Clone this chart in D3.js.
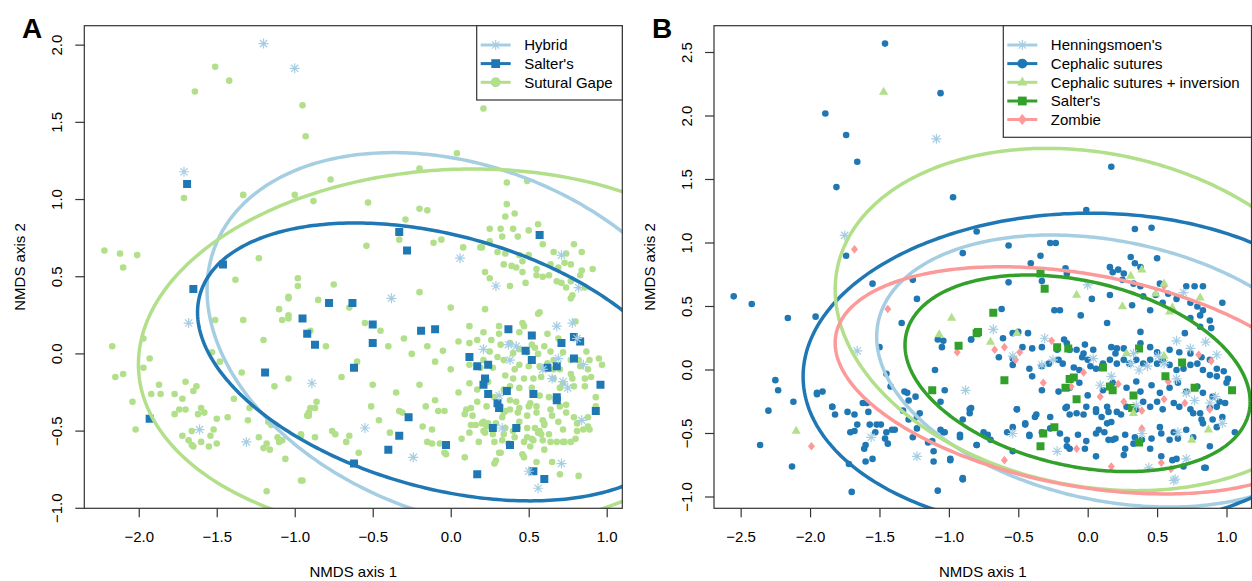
<!DOCTYPE html>
<html><head><meta charset="utf-8">
<script src="https://cdn.jsdelivr.net/npm/d3@7"></script>
<style>
body{margin:0;background:#fff}
text{font-family:"Liberation Sans",Arial,Helvetica,sans-serif;fill:#000}
</style>
</head><body>
<svg id="chart" width="1252" height="581"></svg>
<script>
// ---------------- DATA ----------------
const groupsA = ["Hybrid", "Salter's", "Sutural Gape"];
const colorsA = ["#a6cee3", "#1f78b4", "#b2df8a"];
const groupsB = ["Henningsmoen's", "Cephalic sutures", "Cephalic sutures + inversion", "Salter's", "Zombie"];
const colorsB = ["#a6cee3", "#1f78b4", "#b2df8a", "#33a02c", "#fb9a99"];

const ticksAx = [-2.0, -1.5, -1.0, -0.5, 0.0, 0.5, 1.0];
const ticksAy = [-1.0, -0.5, 0.0, 0.5, 1.0, 1.5, 2.0];
const ticksBx = [-2.5, -2.0, -1.5, -1.0, -0.5, 0.0, 0.5, 1.0];
const ticksBy = [-1.0, -0.5, 0.0, 0.5, 1.0, 1.5, 2.0, 2.5];

// ellipse parameters (centre, spread along x / y, correlation) — panel A order: Hybrid, Salter's, Sutural Gape
const ellA_cx = [0.073, -0.053, 0.018];
const ellA_cy = [0.084, -0.052, 0.008];
const ellA_sx = [1.635, 1.570, 2.020];
const ellA_sy = [1.220, 0.900, 1.190];
const ellA_r  = [-0.271, -0.357, 0.063];
// panel B order: Henningsmoen's, Cephalic, Cephalic+inv, Salter's, Zombie
const ellB_cx = [0.164, -0.030, 0.028, -0.073, -0.031];
const ellB_cy = [-0.008, -0.020, 0.3975, -0.026, -0.0815];
const ellB_sx = [1.684, 2.020, 1.847, 1.243, 1.788];
const ellB_sy = [1.071, 1.255, 1.3475, 0.774, 0.8945];
const ellB_r  = [-0.252, 0.025, -0.174, -0.288, -0.3295];

// Panel A points
const hybridA = [[-1.20,2.01],[-1.00,1.85],[-1.71,1.18],[-1.68,0.20],[-0.89,-0.19],[-1.61,-0.49],[-1.31,-0.57],[-0.55,-0.48],[-0.24,-0.67],[0.33,-0.48],[0.50,-0.76],[0.71,-0.71],[0.56,-0.87],[0.84,-0.43],[0.71,0.64],[0.29,0.44],[0.82,0.43],[0.68,0.18],[0.78,0.20],[0.81,0.10],[0.21,0.03],[0.37,0.06],[0.42,0.05],[0.38,-0.04],[0.59,-0.10],[0.65,-0.16],[0.69,-0.03],[0.72,-0.18],[0.75,-0.22],[0.85,-0.07],[0.31,-0.27],[0.06,0.62],[-0.38,0.36]];
const saltersA = [[-1.69,1.10],[-1.46,0.58],[-1.65,0.42],[-0.95,0.23],[-0.92,0.13],[-1.19,-0.12],[-1.93,-0.42],[-0.33,0.79],[-0.28,0.67],[0.30,-0.32],[0.31,-0.35],[-0.27,-0.41],[-0.33,-0.53],[-0.40,-0.62],[-0.62,-0.71],[-0.03,-0.59],[0.27,-0.48],[0.42,-0.48],[0.38,-0.59],[0.17,-0.78],[0.53,-0.76],[0.60,-0.81],[0.93,-0.37],[0.68,-0.30],[0.57,0.77],[0.37,0.16],[0.52,0.12],[0.71,0.07],[0.79,0.11],[0.83,0.08],[0.48,0.02],[0.52,-0.04],[0.12,-0.02],[0.17,-0.08],[0.24,-0.07],[0.22,-0.16],[0.21,-0.20],[0.24,-0.26],[0.36,-0.24],[0.53,-0.26],[0.62,-0.09],[0.68,-0.08],[0.79,-0.03],[0.96,-0.20],[0.68,-0.28],[-0.78,0.33],[-0.63,0.33],[-0.50,0.19],[-0.50,0.07],[-0.19,0.15],[-0.10,0.16],[-0.62,-0.09],[-0.87,0.06]];
const gapeA = [[-1.51,1.86],[-1.42,1.77],[-1.64,1.70],[-0.95,1.61],[-0.93,1.41],[-1.71,1.01],[-1.33,1.03],[-1.00,1.03],[-0.88,0.99],[-2.22,0.67],[-2.12,0.65],[-2.10,0.56],[-2.01,0.64],[-1.23,0.62],[-1.38,0.48],[-0.98,0.49],[-0.98,0.44],[-1.04,0.37],
[-2.17,0.05],[-2.15,-0.15],[-2.10,-0.13],[-2.04,-0.31],[-2.02,-0.49],[-1.97,0.10],[-1.93,-0.03],[-1.97,-0.09],[-1.92,-0.26],[-1.87,-0.20],[-1.86,-0.26],[-1.77,-0.26],[-1.77,-0.39],[-1.72,-0.29],[-1.74,-0.36],[-1.70,-0.36],[-1.70,-0.18],[-1.65,-0.24],[-1.63,-0.21],[-1.62,-0.39],[-1.60,-0.35],[-1.58,-0.38],[-1.72,-0.53],[-1.68,-0.56],[-1.66,-0.59],[-1.65,-0.60],[-1.60,-0.57],[-1.66,-0.50],[-1.55,-0.60],[-1.54,-0.53],[-1.52,-0.49],[-1.50,-0.58],[-1.50,-0.42],[-1.43,-0.41],[-1.39,-0.29],[-1.34,-0.12],[-1.33,0.22],[-1.48,-0.05],[-1.51,0.22],[-1.53,0.01],[-1.29,-0.35],[-1.30,-0.43],[-1.23,-0.54],[-1.20,-0.61],[-1.18,-0.58],[-1.16,-0.62],[-1.15,-0.46],[-1.17,-0.44],[-1.13,-0.21],[-1.20,0.09],[-1.10,0.29],[-1.08,0.22],[-1.04,0.25],[-1.04,0.23],[-1.04,0.36],[-1.04,-0.16],[-1.11,-0.54],[-1.10,-0.57],[-1.08,-0.56],[-1.06,-0.68],[-0.96,-0.82],[-1.18,-0.89],[-0.96,-0.53],[-0.91,-0.38],[-0.92,-0.40],[-0.90,-0.35],[-0.87,-0.54],[-0.86,-0.31],
[0.04,1.30],[-0.77,1.13],[-0.53,0.98],[-0.20,1.20],[-0.20,0.94],[-0.15,0.93],[-0.29,0.87],[-0.33,0.74],[-0.54,0.70],[-0.11,0.72],[-0.06,0.74],[0.08,0.69],[0.19,0.69],[0.21,1.59],
[0.36,1.11],[0.49,1.12],[0.36,0.97],[0.35,0.89],[0.41,0.91],[0.25,0.81],[0.32,0.81],[0.40,0.81],[0.50,0.80],[0.56,0.84],[0.25,0.73],[0.33,0.76],[0.43,0.76],[0.59,0.71],[0.79,0.71],[0.20,0.69],[0.30,0.66],[0.35,0.65],[0.44,0.64],[0.50,0.64],[0.66,0.66],[0.74,0.65],[0.84,0.66],[0.73,0.59],[0.77,0.58],[0.34,0.58],[0.39,0.57],[0.46,0.60],[0.42,0.56],[0.55,0.55],[0.64,0.58],[0.69,0.56],[0.84,0.54],[0.91,0.55],[0.22,0.53],[0.25,0.49],[0.46,0.53],[0.55,0.51],[0.59,0.50],[0.63,0.51],[0.68,0.47],[0.71,0.46],[0.77,0.47],[0.83,0.51],[0.38,0.44],[0.48,0.46],[0.74,0.43],[0.77,0.36],[0.78,0.38],[0.86,0.43],[0.22,0.29],[0.57,0.27],
[0.12,0.18],[0.21,0.14],[0.31,0.18],[0.31,0.13],[0.46,0.20],[0.47,0.18],[0.44,0.14],[0.52,0.06],[0.56,0.26],[0.62,0.13],[0.69,0.10],[0.80,0.21],[0.12,0.07],[0.17,0.09],[0.26,0.09],[0.32,0.06],[0.38,0.07],[0.40,0.005],[0.44,0.03],[0.49,0.01],[0.54,0.04],[0.56,0.00],[0.60,0.05],[0.64,0.015],[0.66,-0.04],[0.72,0.01],[0.77,-0.04],[0.82,-0.04],[0.87,0.015],[0.89,-0.04],[0.95,-0.03],[0.97,-0.07],[0.88,-0.10],[0.83,-0.08],[0.77,-0.13],[0.70,-0.10],[0.66,-0.10],[0.62,-0.06],[0.57,-0.08],[0.50,-0.08],[0.44,-0.07],[0.41,-0.10],[0.34,-0.04],[0.30,-0.02],[0.25,0.015],[0.21,-0.04],[0.12,-0.07],[0.19,-0.09],[0.27,-0.09],[0.35,-0.14],[0.40,-0.16],[0.47,-0.16],[0.53,-0.16],[0.58,-0.15],[0.66,-0.16],[0.72,-0.19],[0.78,-0.16],[0.86,-0.16],[0.90,-0.15],[0.86,-0.21],[0.79,-0.21],[0.70,-0.22],[0.63,-0.28],[0.57,-0.27],[0.52,-0.22],[0.44,-0.22],[0.38,-0.21],[0.34,-0.23],[0.12,-0.19],[0.17,-0.23],[0.24,-0.18],[0.28,-0.28],[0.38,-0.30],[0.42,-0.31],[0.51,-0.32],[0.55,-0.34],[0.64,-0.36],[0.70,-0.34],[0.74,-0.38],[0.79,-0.41],[0.88,-0.41],[0.93,-0.28],[0.93,-0.34],[0.13,-0.35],[0.17,-0.31],[0.23,-0.34],[0.32,-0.34],[0.34,-0.38],[0.38,-0.36],[0.43,-0.38],[0.49,-0.40],[0.55,-0.38],[0.59,-0.43],[0.65,-0.40],[0.69,-0.44],[0.60,-0.46],[0.54,-0.48],[0.49,-0.48],[0.43,-0.48],[0.35,-0.48],[0.29,-0.45],[0.24,-0.45],[0.20,-0.45],[0.16,-0.46],[0.12,-0.51],[0.21,-0.50],[0.34,-0.52],[0.41,-0.54],[0.49,-0.54],[0.56,-0.51],[0.58,-0.52],[0.63,-0.52],[0.68,-0.57],[0.72,-0.57],[0.77,-0.57],[0.80,-0.55],[0.81,-0.50],[0.85,-0.49],[0.88,-0.47],[0.64,-0.57],[0.59,-0.56],[0.53,-0.56],[0.47,-0.57],[0.37,-0.58],[0.28,-0.57],[0.18,-0.57],[0.32,-0.64],[0.46,-0.65],[0.51,-0.60],[0.55,-0.70],[0.29,-0.69],[0.28,-0.71],[0.65,-0.70],[0.70,-0.78],[0.82,-0.79],[0.60,-0.62],
[-0.87,-0.35],[-0.91,-0.40],[-0.76,-0.50],[-0.74,-0.52],[-0.67,-0.57],[-0.65,-0.53],[-0.59,-0.64],[-0.51,-0.34],[-0.46,-0.43],[-0.39,-0.51],[-0.33,-0.37],[-0.31,-0.38],[-0.16,-0.34],[-0.18,-0.47],[-0.12,-0.49],[-0.15,-0.57],[-0.12,-0.58],[-0.07,-0.58],[-0.08,-0.37],[-0.04,-0.37],[0.10,-0.36],[0.09,-0.39],[0.14,-0.40],[0.13,-0.46],[0.21,-0.44],[0.22,-0.51],[0.07,-0.55],[0.09,-0.67],[-0.04,-0.64],[-0.03,-0.65],[0.31,-0.64],[0.35,-0.37],[0.33,-0.41],[0.44,-0.35],[0.50,-0.34],[0.44,-0.44],[0.52,-0.55],[0.47,-0.67],[0.60,-0.45],[0.72,-0.49],[0.74,-0.33],[0.81,-0.45],[0.89,-0.49],[0.73,-0.57],[0.57,-0.50],[0.40,-0.50],[0.33,-0.56],[0.27,-0.52],[0.23,-0.47],[-0.95,-0.82],[-0.96,-0.52],
[-0.85,0.35],[-0.75,0.45],[-0.65,0.30],[-0.55,0.20],[-0.45,0.15],[-0.40,0.05],[-0.30,0.10],[-0.25,0.00],[-0.15,0.05],[-0.10,-0.05],[-0.05,0.02],[0.00,-0.10],[0.05,0.08],[-0.60,-0.05],[-0.70,-0.15],[-0.50,-0.20],[-0.35,-0.25],[-0.20,-0.20],[-0.80,0.05],[-0.90,0.15],[0.05,-0.25],[-0.10,-0.30],[0.00,0.30],[-0.20,0.40]];

// Panel B points
const henningB = [[-1.75,1.06],[-1.09,1.82],[-1.66,0.15],[-0.88,-0.16],[-1.56,-0.53],[-1.23,-0.68],[0.00,0.67],[0.69,0.61],[-0.68,0.32],[-0.31,0.25],[0.64,0.23],[0.74,0.17],[0.85,0.22],[0.93,0.12],[-0.54,0.11],[-0.33,0.04],[-0.25,0.08],[0.04,0.09],[0.33,0.13],[0.31,0.05],[0.37,0.00],[0.43,0.03],[0.51,0.11],[0.55,0.05],[0.64,-0.07],[0.71,-0.18],[0.77,-0.24],[0.88,-0.26],[0.92,-0.21],[0.97,-0.42],[0.17,-0.05],[0.09,-0.12],[0.35,-0.28],[0.39,-0.50],[-0.54,-0.50],[-0.22,-0.64],[0.44,-0.77],[0.63,-0.86],[0.71,-0.70],[0.65,-0.49],[0.62,-0.87]];
const cephalicB = [[-1.46,2.57],[-1.06,2.18],[-1.89,2.02],[-1.74,1.85],[-1.66,1.64],[-1.81,1.44],[-0.97,1.36],[-1.74,0.90],[-1.55,0.68],[-1.26,0.71],[-1.23,0.56],[-2.55,0.58],[0.17,1.60],[-0.01,1.26],
[-2.42,0.52],[-2.16,0.41],[-1.96,0.42],[-2.25,-0.08],[-2.23,-0.16],[-2.30,-0.32],[-2.12,-0.25],[-1.95,-0.18],[-1.91,-0.17],[-2.36,-0.59],[-2.13,-0.76],[-1.84,-0.29],[-1.82,-0.35],[-1.70,-0.96],
[-0.90,0.92],[-1.34,0.37],[-1.50,0.18],[-1.08,0.24],[-1.04,0.23],[-1.05,0.18],[-0.84,0.24],[-1.10,0.00],[-1.03,-0.16],[-1.06,-0.25],[-0.84,-0.30],[-0.85,-0.34],[-0.90,-0.39],[-0.92,-0.51],[-0.80,-0.59],[-0.90,-0.85],[-1.08,-0.95],[-0.99,-0.70],[-1.03,-0.49],[-1.06,-0.47],[-1.12,-0.56],[-1.11,-0.64],[-1.11,-0.72],[-1.15,-0.57],[-1.26,-0.53],[-1.23,-0.46],[-1.29,-0.39],[-1.32,-0.17],[-1.30,-0.18],[-1.29,-0.24],[-1.24,-0.21],[-1.33,-0.32],[-1.21,-0.34],[-1.23,-0.37],[-1.42,-0.13],[-1.45,-0.03],[-1.59,-0.26],[-1.58,-0.33],[-1.62,-0.26],[-1.68,-0.35],[-1.73,-0.33],[-1.84,-0.29],[-1.95,-0.19],[-1.66,-0.43],[-1.71,-0.49],[-1.68,-0.48],[-1.57,-0.43],[-1.52,-0.43],[-1.49,-0.43],[-1.53,-0.49],[-1.45,-0.49],[-1.46,-0.54],[-1.41,-0.47],[-1.39,-0.47],[-1.44,-0.58],[-1.60,-0.59],[-1.61,-0.62],[-1.55,-0.70],[-1.60,-0.72],[-1.72,-0.74],[-0.90,-0.86],
[-0.80,1.09],[-0.57,0.98],[-0.27,1.00],[-0.23,1.00],[-0.34,0.90],[0.34,1.11],[0.46,1.12],[-0.41,0.84],[-0.16,0.80],[-0.57,0.69],[-0.33,0.70],[-0.15,0.76],[0.16,0.81],[0.31,0.89],[0.34,0.84],[0.38,0.81],[0.50,0.88],[0.18,0.77],[0.22,0.79],[0.26,0.76],[0.25,0.71],[0.33,0.68],[0.38,0.66],[0.40,0.58],[0.49,0.59],[0.52,0.68],[0.58,0.60],[0.64,0.56],[0.71,0.66],[0.77,0.66],[0.83,0.66],[0.74,0.53],[0.79,0.50],[0.83,0.47],[0.88,0.39],[0.81,0.43],[0.74,0.41],[0.81,0.34],[0.97,0.53],[0.54,0.53],[0.45,0.47],[0.32,0.51],[0.16,0.59],[0.03,0.56],[-0.24,0.47],[-0.20,0.47],[-0.05,0.43],[0.14,0.37],[-0.62,0.48],[0.38,0.30],[0.70,0.29],[0.89,0.33],
[-0.84,0.24],[-0.64,0.10],[-0.61,0.25],[-0.54,0.29],[-0.50,0.30],[-0.43,0.29],[-0.47,0.18],[-0.40,0.17],[-0.33,0.18],[-0.17,0.24],[-0.15,0.21],[-0.22,0.16],[-0.13,0.16],[-0.08,0.16],[-0.02,0.20],[-0.03,0.13],[0.04,0.16],[-0.04,0.10],[0.00,0.08],[0.17,0.18],[0.21,0.17],[0.26,0.17],[0.20,0.13],[0.38,0.21],[0.45,0.18],[0.50,0.14],[0.59,0.16],[0.66,0.14],[0.74,0.13],[0.82,0.10],[0.88,0.08],[0.93,0.01],[0.98,-0.01],[1.01,-0.07],[1.00,-0.10],[0.93,-0.05],[0.88,-0.04],[0.83,0.00],[0.79,0.05],[0.74,0.04],[0.69,0.01],[0.64,0.00],[0.59,0.04],[0.54,0.08],[0.50,0.05],[0.45,0.08],[0.40,0.05],[0.35,0.08],[0.30,0.05],[0.26,0.08],[0.21,0.05],[0.16,0.08],[0.11,0.05],[0.06,0.01],[0.02,0.03],[-0.06,0.00],[-0.10,0.02],[-0.18,0.05],[-0.21,0.08],[-0.28,0.05],[-0.33,0.03],[-0.42,0.01],[-0.54,0.04],[-0.54,0.09],[-0.40,-0.05],[-0.33,-0.16],[-0.21,-0.17],[-0.13,-0.14],[-0.06,-0.10],[0.00,-0.20],[0.11,-0.16],[0.18,-0.10],[0.28,-0.14],[0.35,-0.09],[0.38,-0.17],[0.46,-0.12],[0.52,-0.18],[0.59,-0.14],[0.65,-0.10],[0.71,-0.17],[0.79,-0.13],[0.83,-0.18],[0.90,-0.21],[0.95,-0.25],[0.99,-0.26],[0.88,-0.30],[0.81,-0.34],[0.74,-0.31],[0.66,-0.29],[0.62,-0.26],[0.54,-0.31],[0.50,-0.25],[0.45,-0.29],[0.40,-0.25],[0.35,-0.31],[0.28,-0.29],[0.21,-0.33],[0.14,-0.29],[0.06,-0.33],[-0.01,-0.29],[-0.08,-0.34],[-0.16,-0.30],[-0.13,-0.35],[-0.27,-0.37],[-0.37,-0.35],[-0.38,-0.37],[-0.45,-0.42],[-0.51,-0.31],[-0.54,-0.45],[-0.58,-0.49],[-0.42,-0.51],[-0.33,-0.49],[-0.27,-0.46],[-0.20,-0.50],[-0.15,-0.55],[-0.07,-0.51],[-0.01,-0.56],[0.08,-0.47],[0.14,-0.42],[0.15,-0.55],[0.20,-0.54],[0.27,-0.51],[0.34,-0.53],[0.39,-0.55],[0.46,-0.54],[0.53,-0.50],[0.59,-0.55],[0.65,-0.54],[0.71,-0.47],[0.76,-0.53],[0.83,-0.42],[0.90,-0.39],[0.93,-0.45],[0.97,-0.37],[0.27,-0.62],[0.45,-0.62],[0.53,-0.68],[0.61,-0.71],[0.64,-0.70],[0.69,-0.76],[0.85,-0.77],[0.82,-0.39],[1.06,-0.49],[-0.85,-0.31],[-0.75,-0.49],[-0.72,-0.51],[-0.80,-0.59],[-0.54,-0.64],[0.06,-0.68],[-0.13,-0.62],[-0.02,-0.62],
[-0.51,-0.31],[-0.45,-0.43],[-0.42,-0.52],[-0.15,-0.29],[-0.03,-0.35],[0.06,-0.31],[0.10,-0.37],[0.15,-0.33],[0.17,-0.41],[0.06,-0.50],[0.12,-0.49],[0.18,-0.55],[0.24,-0.35],[0.26,-0.67],[0.33,-0.58],[0.52,-0.45],[0.62,-0.49],[0.84,-0.77],[0.88,-0.60],[0.93,-0.29],[0.76,-0.34],[-0.99,-0.71],[-0.90,-0.86],[-0.70,-0.55],[-0.92,-0.53],[-1.04,-0.49],[-0.15,-0.60]];
const inversionB = [[-1.47,2.19],[-2.10,-0.48],[-0.98,0.41],[-1.07,0.28],[-0.08,0.59],[0.25,0.50],[0.31,0.74],[0.39,0.79],[0.55,0.68],[0.61,0.49],[0.81,0.57],[-0.70,0.22],[-0.51,0.29],[0.28,0.13],[0.55,0.11],[0.33,-0.34],[0.87,-0.47],[0.75,-0.55],[0.59,0.46],[0.49,0.60]];
const saltersB = [[-0.80,0.29],[-0.93,0.19],[-1.12,-0.16],[-0.34,0.76],[-0.31,0.64],[-0.68,0.45],[-0.79,0.30],[-0.22,0.18],[-0.14,0.17],[-0.60,-0.08],[-0.13,-0.07],[-0.10,-0.06],[-0.16,-0.14],[-0.08,-0.23],[0.11,0.02],[0.16,-0.13],[0.18,-0.16],[0.33,-0.20],[0.32,-0.30],[0.37,0.17],[0.56,-0.05],[0.68,0.06],[0.77,-0.14],[1.04,-0.16],[-0.24,-0.45],[-0.32,-0.50],[-0.34,-0.60],[0.37,-0.57]];
const zombieB = [[-1.68,0.95],[-1.44,0.48],[-1.99,-0.60],[-0.94,0.14],[-0.67,0.16],[-0.60,0.18],[-0.52,0.08],[-0.49,0.14],[-0.26,0.23],[-0.32,-0.10],[-0.12,-0.13],[-0.03,-0.02],[0.09,-0.21],[0.22,-0.11],[0.26,-0.25],[0.39,-0.32],[0.55,-0.23],[0.58,-0.09],[0.70,-0.26],[0.80,0.12],[0.89,0.07],[0.88,-0.31],[0.55,0.66],[0.39,-0.46],[-0.08,-0.62],[0.17,-0.76],[0.53,-0.73],[0.60,-0.78],[-0.60,-0.71]];

// ---------------- DRAWING ----------------
const svg = d3.select("#chart");
const fmt = d3.format(".1f");
const FONT = 15;

function symbolPath(type) {
  if (type === "asterisk") return "M-5,0H5M0,-5V5M-3.6,-3.6L3.6,3.6M-3.6,3.6L3.6,-3.6";
  if (type === "square") return "M-4,-4H4V4H-4Z";
  if (type === "triangle") return "M0,-5.2L4.6,2.8H-4.6Z";
  if (type === "diamond") return "M0,-4.3L3.5,0L0,4.3L-3.5,0Z";
  return null;
}
function drawPoints(g, data, x, y, type, color, scale) {
  scale = scale || 1;
  if (type === "circle") {
    g.append("g").selectAll("circle").data(data).join("circle")
      .attr("cx", d => x(d[0])).attr("cy", d => y(d[1])).attr("r", 3.3 * scale).attr("fill", color);
  } else if (type === "asterisk") {
    g.append("g").selectAll("path").data(data).join("path")
      .attr("d", symbolPath(type)).attr("transform", d => `translate(${x(d[0])},${y(d[1])}) scale(${scale})`)
      .attr("fill", "none").attr("stroke", color).attr("stroke-width", 1.2);
  } else {
    g.append("g").selectAll("path").data(data).join("path")
      .attr("d", symbolPath(type)).attr("transform", d => `translate(${x(d[0])},${y(d[1])}) scale(${scale})`)
      .attr("fill", color);
  }
}
function ellipsePoints(cx, cy, sx, sy, r) {
  return d3.range(0, 361, 1).map(deg => {
    const t = deg * Math.PI / 180;
    return [cx + sx * Math.cos(t), cy + sy * (r * Math.cos(t) + Math.sqrt(1 - r * r) * Math.sin(t))];
  });
}

function panel(opts) {
  const {left, right, top, bottom, xDom, yDom, xTicks, yTicks, label, id} = opts;
  const x = d3.scaleLinear().domain(xDom).range([left, right]);
  const y = d3.scaleLinear().domain(yDom).range([bottom, top]);
  svg.append("clipPath").attr("id", id).append("rect")
    .attr("x", left).attr("y", top).attr("width", right - left).attr("height", bottom - top);
  const plot = svg.append("g").attr("clip-path", `url(#${id})`);

  // x axis
  const xa = svg.append("g").attr("transform", `translate(0,${bottom})`)
    .call(d3.axisBottom(x).tickValues(xTicks).tickFormat(fmt).tickSize(9).tickPadding(14));
  xa.select(".domain").remove();
  xa.selectAll("line").attr("stroke", "#333").attr("stroke-width", 1.2);
  xa.selectAll("text").attr("font-size", FONT).attr("fill", "#000")
    .attr("font-family", '"Liberation Sans",Arial,Helvetica,sans-serif');

  // y axis (rotated labels like R)
  const ya = svg.append("g");
  ya.selectAll("line").data(yTicks).join("line")
    .attr("x1", left - 9).attr("x2", left).attr("y1", d => y(d)).attr("y2", d => y(d))
    .attr("stroke", "#333").attr("stroke-width", 1.2);
  ya.selectAll("text").data(yTicks).join("text")
    .attr("transform", d => `translate(${left - 22},${y(d)}) rotate(-90)`)
    .attr("text-anchor", "middle").attr("font-size", FONT).text(d => fmt(d));

  // titles
  svg.append("text").attr("x", (left + right) / 2).attr("y", 577).attr("text-anchor", "middle")
    .attr("font-size", FONT).text("NMDS axis 1");
  svg.append("text").attr("transform", `translate(${left - 59},${(top + bottom) / 2}) rotate(-90)`)
    .attr("text-anchor", "middle").attr("font-size", FONT).text("NMDS axis 2");
  svg.append("text").attr("x", opts.labelX).attr("y", 38).attr("font-size", 28).attr("font-weight", "bold").text(label);

  return {x, y, plot, box: () => svg.append("rect").attr("x", left).attr("y", top)
    .attr("width", right - left).attr("height", bottom - top).attr("fill", "none").attr("stroke", "#333").attr("stroke-width", 1.2)};
}

function legend(x0, y0, x1, y1, rows, names, colors, types, scales) {
  const g = svg.append("g");
  g.append("rect").attr("x", x0).attr("y", y0).attr("width", x1 - x0).attr("height", y1 - y0)
    .attr("fill", "#fff").attr("stroke", "#333").attr("stroke-width", 1.2);
  names.forEach((n, i) => {
    const ry = rows[i];
    g.append("line").attr("x1", x0 + 4).attr("x2", x0 + 34).attr("y1", ry).attr("y2", ry)
      .attr("stroke", colors[i]).attr("stroke-width", 3);
    const sx = d3.scaleLinear().domain([0, 1]).range([x0 + 19, x0 + 20]);
    const sy = d3.scaleLinear().domain([0, 1]).range([ry, ry + 1]);
    drawPoints(g, [[0, 0]], sx, sy, types[i], colors[i], scales[i]);
    g.append("text").attr("x", x0 + 47.5).attr("y", ry + 5.4).attr("font-size", FONT).text(n);
  });
}

// Panel A
const A = panel({left: 84.3, right: 622.3, top: 25.7, bottom: 508.3,
  xDom: [-2.349, 1.1], yDom: [-1.0, 2.126], xTicks: ticksAx, yTicks: ticksAy, label: "A", labelX: 22, id: "clipA"});
drawPoints(A.plot, gapeA, A.x, A.y, "circle", colorsA[2]);
drawPoints(A.plot, saltersA, A.x, A.y, "square", colorsA[1]);
drawPoints(A.plot, hybridA, A.x, A.y, "asterisk", colorsA[0]);
[0, 1, 2].forEach(i => {
  A.plot.append("path").attr("d", d3.line().x(d => A.x(d[0])).y(d => A.y(d[1]))(
      ellipsePoints(ellA_cx[i], ellA_cy[i], ellA_sx[i], ellA_sy[i], ellA_r[i])))
    .attr("fill", "none").attr("stroke", colorsA[i]).attr("stroke-width", 3.5);
});
A.box();
legend(476.7, 25.7, 622.3, 100, [45, 63.6, 82.3], groupsA, colorsA, ["asterisk", "square", "circle"], [1, 1.1, 1.5]);

// Panel B
const B = panel({left: 714, right: 1251.5, top: 25.7, bottom: 508.3,
  xDom: [-2.692, 1.180], yDom: [-1.089, 2.711], xTicks: ticksBx, yTicks: ticksBy, label: "B", labelX: 652, id: "clipB"});
drawPoints(B.plot, cephalicB, B.x, B.y, "circle", colorsB[1]);
drawPoints(B.plot, zombieB, B.x, B.y, "diamond", colorsB[4]);
drawPoints(B.plot, saltersB, B.x, B.y, "square", colorsB[3]);
drawPoints(B.plot, inversionB, B.x, B.y, "triangle", colorsB[2]);
drawPoints(B.plot, henningB, B.x, B.y, "asterisk", colorsB[0]);
[0, 1, 2, 3, 4].forEach(i => {
  B.plot.append("path").attr("d", d3.line().x(d => B.x(d[0])).y(d => B.y(d[1]))(
      ellipsePoints(ellB_cx[i], ellB_cy[i], ellB_sx[i], ellB_sy[i], ellB_r[i])))
    .attr("fill", "none").attr("stroke", colorsB[i]).attr("stroke-width", 3.5);
});
B.box();
legend(1003.3, 25.7, 1251.5, 137.3, [45, 63.6, 82.3, 101, 119.5], groupsB, colorsB,
  ["asterisk", "circle", "triangle", "square", "diamond"], [1, 1.5, 1.1, 1.1, 1.3]);
</script>
</body></html>
